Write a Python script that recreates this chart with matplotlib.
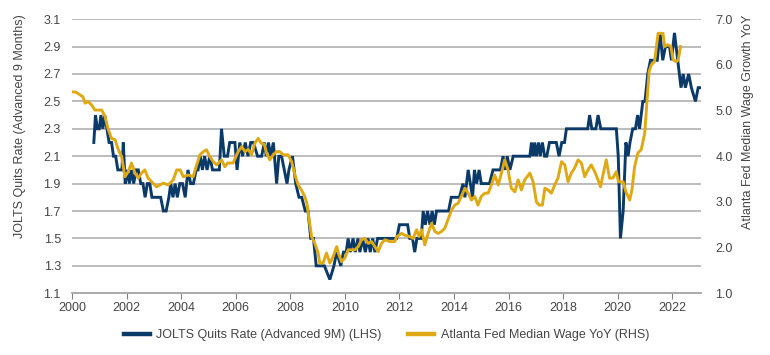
import numpy as np
from matplotlib import pyplot as plt

# JOLTS quits rate, advanced 9 months (LHS)
quits_years = [2000.80, 2000.86, 2000.93, 2001.00, 2001.06, 2001.13, 2001.20, 2001.28, 2001.36, 2001.45,
               2001.52, 2001.60, 2001.68, 2001.75, 2001.83, 2001.88, 2001.95, 2002.03, 2002.10, 2002.18,
               2002.26, 2002.35, 2002.43, 2002.52, 2002.60, 2002.68, 2002.76, 2002.85, 2002.93, 2003.10,
               2003.25, 2003.35, 2003.45, 2003.55, 2003.62, 2003.70, 2003.78, 2003.86, 2003.95, 2004.05,
               2004.15, 2004.25, 2004.35, 2004.45, 2004.55, 2004.62, 2004.70, 2004.78, 2004.86, 2004.95,
               2005.05, 2005.15, 2005.30, 2005.40, 2005.48, 2005.58, 2005.70, 2005.78, 2005.97, 2006.05,
               2006.15, 2006.25, 2006.35, 2006.45, 2006.55, 2006.65, 2006.80, 2006.95, 2007.05, 2007.12,
               2007.20, 2007.28, 2007.38, 2007.50, 2007.58, 2007.68, 2007.78, 2007.88, 2007.95, 2008.08,
               2008.20, 2008.32, 2008.42, 2008.55, 2008.65, 2008.75, 2008.85, 2008.95, 2009.10, 2009.25,
               2009.45, 2009.60, 2009.70, 2009.85, 2009.95, 2010.05, 2010.12, 2010.20, 2010.30, 2010.38,
               2010.48, 2010.55, 2010.65, 2010.75, 2010.85, 2010.93, 2011.02, 2011.10, 2011.20, 2011.90,
               2012.00, 2012.30, 2012.38, 2012.48, 2012.56, 2012.64, 2012.80, 2012.87, 2012.95, 2013.03,
               2013.12, 2013.20, 2013.28, 2013.36, 2013.80, 2013.90, 2014.20, 2014.33, 2014.40, 2014.52,
               2014.60, 2014.68, 2014.75, 2014.83, 2014.92, 2015.00, 2015.30, 2015.43, 2015.70, 2015.80,
               2015.88, 2015.95, 2016.05, 2016.17, 2016.78, 2016.84, 2016.90, 2016.96, 2017.02, 2017.10,
               2017.16, 2017.24, 2017.32, 2017.40, 2017.50, 2017.75, 2017.85, 2017.95, 2018.05, 2018.12,
               2018.90, 2018.97, 2019.05, 2019.20, 2019.28, 2019.38, 2019.95, 2020.02, 2020.10, 2020.20,
               2020.30, 2020.38, 2020.45, 2020.55, 2020.65, 2020.73, 2020.80, 2020.92, 2021.00, 2021.10,
               2021.20, 2021.45, 2021.55, 2021.65, 2021.75, 2021.90, 2021.97, 2022.08, 2022.20, 2022.32,
               2022.40, 2022.48, 2022.60, 2022.70, 2022.85, 2022.95, 2023.08]
quits_rate = [2.2, 2.4, 2.3, 2.3, 2.4, 2.3, 2.4, 2.3, 2.2, 2.2,
              2.1, 2.1, 2.0, 2.0, 2.0, 2.2, 1.9, 2.0, 1.9, 2.0,
              1.9, 2.0, 2.0, 1.9, 1.9, 1.8, 1.9, 1.9, 1.8, 1.8,
              1.8, 1.7, 1.7, 1.8, 1.9, 1.8, 1.9, 1.8, 1.9, 1.9,
              1.8, 2.0, 1.9, 1.9, 2.0, 2.0, 2.1, 2.0, 2.1, 2.0,
              2.1, 2.0, 2.0, 2.0, 2.3, 2.1, 2.1, 2.2, 2.2, 2.0,
              2.2, 2.1, 2.2, 2.1, 2.2, 2.2, 2.1, 2.1, 2.2, 2.1,
              2.2, 2.1, 2.2, 1.9, 2.1, 2.1, 2.0, 1.9, 2.0, 2.1,
              1.9, 1.8, 1.8, 1.7, 1.7, 1.5, 1.5, 1.3, 1.3, 1.3,
              1.2, 1.3, 1.4, 1.3, 1.4, 1.4, 1.5, 1.4, 1.5, 1.4,
              1.5, 1.4, 1.5, 1.4, 1.5, 1.4, 1.5, 1.4, 1.5, 1.5,
              1.6, 1.6, 1.5, 1.5, 1.4, 1.5, 1.5, 1.7, 1.6, 1.7,
              1.6, 1.7, 1.6, 1.7, 1.7, 1.8, 1.8, 1.9, 1.8, 2.0,
              1.9, 1.8, 2.0, 1.9, 2.0, 1.9, 1.9, 2.0, 2.0, 2.1,
              2.0, 2.1, 2.0, 2.1, 2.1, 2.2, 2.1, 2.2, 2.1, 2.2,
              2.1, 2.2, 2.1, 2.1, 2.2, 2.2, 2.1, 2.2, 2.2, 2.3,
              2.3, 2.4, 2.3, 2.3, 2.4, 2.3, 2.3, 2.1, 1.5, 1.7,
              2.2, 2.1, 2.2, 2.3, 2.3, 2.4, 2.3, 2.5, 2.5, 2.7,
              2.8, 2.8, 3.0, 2.8, 2.9, 2.9, 2.8, 3.0, 2.8, 2.6,
              2.7, 2.6, 2.7, 2.6, 2.5, 2.6, 2.6]

# Atlanta Fed median wage growth YoY (RHS)
wage_years = [2000.00, 2000.15, 2000.30, 2000.40, 2000.48, 2000.59, 2000.72, 2000.84, 2001.09, 2001.21,
              2001.33, 2001.45, 2001.58, 2001.70, 2001.82, 2001.94, 2002.06, 2002.18, 2002.31, 2002.43,
              2002.55, 2002.67, 2002.79, 2002.92, 2003.10, 2003.34, 2003.53, 2003.71, 2003.84, 2003.96,
              2004.08, 2004.26, 2004.44, 2004.57, 2004.69, 2004.81, 2004.93, 2005.05, 2005.18, 2005.30,
              2005.48, 2005.60, 2005.70, 2005.90, 2006.09, 2006.22, 2006.34, 2006.46, 2006.58, 2006.70,
              2006.82, 2006.94, 2007.05, 2007.13, 2007.25, 2007.37, 2007.49, 2007.62, 2007.74, 2007.92,
              2008.05, 2008.17, 2008.29, 2008.41, 2008.53, 2008.61, 2008.69, 2008.78, 2008.90, 2009.02,
              2009.08, 2009.20, 2009.33, 2009.45, 2009.57, 2009.70, 2009.76, 2009.88, 2010.00, 2010.12,
              2010.25, 2010.37, 2010.49, 2010.61, 2010.73, 2010.86, 2010.98, 2011.10, 2011.22, 2011.34,
              2011.47, 2011.65, 2011.83, 2011.90, 2012.08, 2012.20, 2012.38, 2012.50, 2012.63, 2012.72,
              2012.81, 2012.93, 2013.05, 2013.18, 2013.30, 2013.42, 2013.54, 2013.66, 2013.78, 2013.91,
              2014.03, 2014.15, 2014.27, 2014.40, 2014.52, 2014.64, 2014.76, 2014.88, 2015.00, 2015.13,
              2015.25, 2015.37, 2015.49, 2015.62, 2015.74, 2015.86, 2015.98, 2016.10, 2016.23, 2016.35,
              2016.47, 2016.59, 2016.78, 2016.90, 2017.02, 2017.12, 2017.24, 2017.33, 2017.45, 2017.57,
              2017.69, 2017.81, 2017.94, 2018.06, 2018.18, 2018.30, 2018.42, 2018.55, 2018.67, 2018.79,
              2018.91, 2019.03, 2019.16, 2019.28, 2019.37, 2019.46, 2019.58, 2019.70, 2019.82, 2019.95,
              2020.03, 2020.20, 2020.30, 2020.44, 2020.52, 2020.62, 2020.74, 2020.86, 2020.99, 2021.07,
              2021.15, 2021.23, 2021.35, 2021.48, 2021.66, 2021.72, 2021.83, 2021.95, 2022.03, 2022.15,
              2022.22, 2022.30]
wage_growth = [5.41, 5.40, 5.34, 5.30, 5.16, 5.20, 5.12, 5.01, 5.01, 4.87,
               4.58, 4.39, 4.36, 4.14, 3.99, 3.55, 3.66, 3.85, 3.63, 3.52,
               3.63, 3.70, 3.52, 3.44, 3.33, 3.41, 3.37, 3.48, 3.70, 3.70,
               3.55, 3.59, 3.55, 3.81, 4.03, 4.10, 4.14, 3.99, 3.88, 3.81,
               3.92, 3.77, 3.85, 3.85, 4.10, 4.21, 4.10, 4.15, 4.03, 4.28,
               4.39, 4.28, 4.26, 4.07, 3.92, 4.03, 4.10, 4.10, 4.03, 4.03,
               3.88, 3.59, 3.37, 3.26, 3.12, 2.97, 2.61, 2.24, 2.09, 1.88,
               1.66, 1.66, 1.88, 1.66, 1.80, 2.02, 1.88, 1.69, 1.77, 1.95,
               1.95, 1.95, 2.02, 2.17, 2.20, 2.09, 2.13, 2.02, 1.91, 2.09,
               2.17, 2.13, 2.13, 2.24, 2.31, 2.27, 2.24, 2.20, 2.39, 2.24,
               2.39, 2.06, 2.31, 2.53, 2.35, 2.31, 2.35, 2.42, 2.61, 2.82,
               2.93, 2.97, 3.12, 3.30, 3.19, 3.04, 3.12, 2.93, 3.12, 3.19,
               3.19, 3.37, 3.59, 3.37, 3.63, 3.92, 3.70, 3.30, 3.22, 3.48,
               3.26, 3.48, 3.63, 3.44, 3.00, 2.93, 2.93, 3.30, 3.26, 3.19,
               3.37, 3.52, 3.88, 3.81, 3.44, 3.63, 3.74, 3.92, 3.85, 3.55,
               3.70, 3.81, 3.66, 3.48, 3.33, 3.59, 3.92, 3.52, 3.52, 3.66,
               3.44, 3.44, 3.22, 3.04, 3.26, 3.77, 4.07, 4.14, 4.50, 5.16,
               5.85, 6.00, 6.07, 6.69, 6.69, 6.40, 6.44, 6.40, 6.11, 6.07,
               6.11, 6.40]

blue = '#0c3a68'
gold = '#dfa914'
txt = '#454545'
grid = '#a9a9a9'

plt.rcParams['font.family'] = ['Liberation Sans', 'DejaVu Sans']
plt.rcParams['font.size'] = 9

fig = plt.figure(figsize=(7.7, 3.55), dpi=100)
ax = fig.add_axes([0.0935, 0.174, 0.8175, 0.772])
ax2 = ax.twinx()

l1, = ax.plot(quits_years, quits_rate, color=blue, lw=2.1, solid_joinstyle='miter',
              label='JOLTS Quits Rate (Advanced 9M) (LHS)')
l2, = ax2.plot(wage_years, wage_growth, color=gold, lw=2.1,
               label='Atlanta Fed Median Wage YoY (RHS)')

ax.set_xlim(2000, 2023.07)
ax.set_ylim(1.1, 3.1)
ax2.set_ylim(1.0, 7.0)
ax.set_xticks(np.arange(2000, 2023, 2))
ax.set_yticks(np.arange(1.1, 3.15, 0.2))
ax.set_yticklabels(['%.1f' % v for v in np.arange(1.1, 3.15, 0.2)])
ax2.set_yticks(np.arange(1, 8, 1))
ax2.set_yticklabels(['%.1f' % v for v in np.arange(1, 8, 1)])

ax.grid(axis='y', color=grid, lw=1.1)
ax.set_axisbelow(True)
for a in (ax, ax2):
    for s in ['top', 'left', 'right']:
        a.spines[s].set_visible(False)
    a.spines['bottom'].set_color(grid)
    a.spines['bottom'].set_linewidth(1.1)

ax.tick_params(axis='x', colors=txt, length=4, color='#808080', pad=2, labelsize=9)
ax.tick_params(axis='y', colors=txt, length=0, pad=8, labelsize=9)
ax2.tick_params(axis='y', colors=txt, length=0, pad=10, labelsize=9)

fig.text(20 / 770, 1 - 126 / 355, 'JOLTS Quits Rate (Advanced 9 Months)', rotation=90,
         ha='center', va='center', color=txt, fontsize=9)
fig.text(748 / 770, 1 - 122 / 355, 'Atlanta Fed Median Wage Growth YoY', rotation=90,
         ha='center', va='center', color=txt, fontsize=9)

# legend box starts so the first handle sits at x ~ 124 px
fig.legend(handles=[l1, l2], loc='center left', bbox_to_anchor=(119 / 770, 0.056), ncol=2,
           frameon=False, handlelength=2.1, handletextpad=0.5, columnspacing=2.1,
           borderpad=0.4, borderaxespad=0, labelcolor=txt, fontsize=9)
for h in fig.legends[0].legend_handles:
    h.set_linewidth(3.2)

fig.savefig('out.png', dpi=100)
